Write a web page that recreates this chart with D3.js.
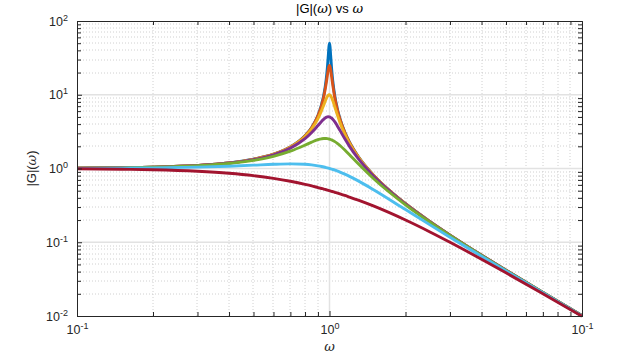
<!DOCTYPE html>
<html>
<head>
<meta charset="utf-8">
<script src="https://cdn.jsdelivr.net/npm/d3@7"></script>
<style>
  body { margin: 0; background: #fff; }
  svg { display: block; font-family: "Liberation Sans", Arial, sans-serif; }
</style>
</head>
<body>
<div id="graf"></div>
<script>
// Datos: frecuencia y |G| para cada curva
const omega = [0.1, 0.15, 0.2, 0.3, 0.4, 0.5, 0.6, 0.7, 0.8, 0.85, 0.9, 0.93, 0.95, 0.97, 0.98, 0.99, 0.995,
  1.0, 1.005, 1.01, 1.02, 1.03, 1.05, 1.07, 1.1, 1.15, 1.2, 1.3, 1.5, 2, 2.5, 3, 4, 5, 7, 10]

const magA = [1.0101, 1.023, 1.0417, 1.0989, 1.1904, 1.3332, 1.5622, 1.96, 2.7751, 3.5969, 5.2397, 7.3329, 10.067, 16.077, 22.634, 35.623, 44.923,
  50.0, 44.521, 35.093, 22.097, 15.555, 9.5576, 6.8273, 4.736, 3.0929, 2.2693, 1.4482, 0.7998, 0.3333, 0.19047, 0.125, 0.066666, 0.04167, 0.02083, 0.0101]
const magB = [1.0101, 1.023, 1.0416, 1.0988, 1.1903, 1.3329, 1.5614, 1.9578, 2.7669, 3.5769, 5.1712, 7.1364, 9.5565, 14.145, 17.946, 22.565, 24.372,
  25.0, 24.137, 22.162, 17.416, 13.601, 9.0277, 6.6186, 4.6607, 3.0697, 2.2593, 1.4452, 0.7991, 0.3332, 0.19044, 0.12499, 0.06666, 0.04167, 0.02083, 0.0101]
const magC = [1.0101, 1.0229, 1.0414, 1.0983, 1.1891, 1.3304, 1.5557, 1.9426, 2.7116, 3.4456, 4.7565, 6.097, 7.346, 8.8037, 9.4609, 9.9031, 10.0003,
  10.0, 9.9012, 9.7107, 9.115, 8.3571, 6.8149, 5.5517, 4.2182, 2.9206, 2.1926, 1.4242, 0.7943, 0.3326, 0.19026, 0.1249, 0.066643, 0.04166, 0.02083, 0.0101]
const magD = [1.0099, 1.0225, 1.0408, 1.0965, 1.1851, 1.3216, 1.5357, 1.8908, 2.5384, 3.0728, 3.8208, 4.3499, 4.6826, 4.931, 5.001, 5.0252, 5.0188,
  5.0, 4.969, 4.9262, 4.8086, 4.6552, 4.2794, 3.8694, 3.288, 2.5245, 1.9952, 1.3562, 0.7779, 0.3304, 0.18962, 0.1246, 0.066572, 0.04163, 0.02082, 0.0101]
const magE = [1.0093, 1.0211, 1.0381, 1.0895, 1.1695, 1.2883, 1.463, 1.7188, 2.0761, 2.2786, 2.4566, 2.5267, 2.549, 2.5479, 2.5381, 2.5221, 2.5118,
  2.5, 2.4868, 2.4722, 2.4391, 2.4011, 2.3131, 2.2131, 2.0511, 1.78, 1.5357, 1.1574, 0.7212, 0.3221, 0.18711, 0.1236, 0.066291, 0.04152, 0.0208, 0.01009]
const magF = [1.005, 1.0112, 1.0198, 1.0436, 1.0748, 1.1094, 1.1399, 1.1546, 1.1399, 1.1184, 1.0871, 1.0641, 1.0471, 1.029, 1.0196, 1.0099, 1.005,
  1.0, 0.995, 0.9899, 0.9796, 0.9692, 0.9479, 0.9261, 0.893, 0.8373, 0.7824, 0.6795, 0.5121, 0.2774, 0.17197, 0.117, 0.064416, 0.0408, 0.0206, 0.01005]
const magG = [0.99, 0.978, 0.962, 0.917, 0.862, 0.8, 0.735, 0.671, 0.61, 0.581, 0.552, 0.536, 0.526, 0.515, 0.51, 0.505, 0.5025,
  0.5, 0.4975, 0.495, 0.49, 0.485, 0.476, 0.466, 0.452, 0.431, 0.41, 0.372, 0.308, 0.2, 0.13793, 0.1, 0.058824, 0.0385, 0.02, 0.0099]

const series = [magA, magB, magC, magD, magE, magF, magG]
const colores = ["#0072BD", "#D95319", "#EDB120", "#7E2F8E", "#77AC30", "#4DBEEE", "#A2142F"]

// Ticks (texto tal como aparece)
const xTicks = [0.1, 1, 10]
const xTickExps = ["-1", "0", "-1"]
const yTicks = [0.01, 0.1, 1, 10, 100]
const yTickExps = ["-2", "-1", "0", "1", "2"]

const draw = () => {
  const graf = d3.select("#graf")

  const anchoTotal = 628
  const altoTotal = 354
  const margins = { top: 21, right: 46, bottom: 38, left: 77 }
  const ancho = anchoTotal - margins.left - margins.right
  const alto = altoTotal - margins.top - margins.bottom

  const x = d3.scaleLog().domain([0.1, 10]).range([0, ancho])
  const y = d3.scaleLog().domain([0.01, 100]).range([alto, 0])

  const minor = (decs) => decs.flatMap((d) => d3.range(2, 10).map((k) => d * k))
  const xMinor = minor([0.1, 1])
  const yMinor = minor([0.01, 0.1, 1, 10])

  const svg = graf.append("svg").attr("width", anchoTotal).attr("height", altoTotal)

  const chart = svg.append("g").attr("transform", `translate(${margins.left}, ${margins.top})`)

  // Rejilla menor (punteada)
  const grid = chart.append("g")
  grid.selectAll(".vmin").data(xMinor).join("line")
    .attr("x1", (d) => Math.round(x(d))).attr("x2", (d) => Math.round(x(d)))
    .attr("y1", 0).attr("y2", alto)
    .attr("stroke", "#c4c4c4").attr("stroke-width", 0.8).attr("stroke-dasharray", "1,2")
  grid.selectAll(".hmin").data(yMinor).join("line")
    .attr("y1", (d) => Math.round(y(d))).attr("y2", (d) => Math.round(y(d)))
    .attr("x1", 0).attr("x2", ancho)
    .attr("stroke", "#c4c4c4").attr("stroke-width", 0.8).attr("stroke-dasharray", "1,2")
  // Rejilla mayor
  grid.selectAll(".vmaj").data([1]).join("line")
    .attr("x1", (d) => x(d)).attr("x2", (d) => x(d))
    .attr("y1", 0).attr("y2", alto)
    .attr("stroke", "#e2e2e2").attr("stroke-width", 1.5)
  grid.selectAll(".hmaj").data([0.1, 1, 10]).join("line")
    .attr("y1", (d) => y(d)).attr("y2", (d) => y(d))
    .attr("x1", 0).attr("x2", ancho)
    .attr("stroke", "#e2e2e2").attr("stroke-width", 1.5)

  // Curvas
  const line = d3.line()
    .x((d, i) => x(omega[i]))
    .y((d) => y(d))
    .curve(d3.curveMonotoneX)

  chart.append("g").selectAll("path").data(series).join("path")
    .attr("d", line)
    .attr("fill", "none")
    .attr("stroke", (d, i) => colores[i])
    .attr("stroke-width", 2.9)
    .attr("stroke-linejoin", "round")

  // Ejes
  const sup = (g, exps) => {
    g.selectAll(".tick text").each(function (d, i) {
      const t = d3.select(this)
      t.text(null)
      t.append("tspan").text("10")
      t.append("tspan").attr("dy", "-5").style("font-size", "9px").text(exps[i])
    })
  }
  const styleAxis = (g) => {
    g.select(".domain").attr("stroke", "#262626")
    g.selectAll(".tick line").attr("stroke", "#262626")
    g.selectAll(".tick text").attr("fill", "#262626").style("font-size", "12.5px")
    g.attr("font-family", null)
  }

  // menores
  chart.append("g").attr("transform", `translate(0, ${alto})`)
    .call(d3.axisBottom(x).tickValues(xMinor).tickSize(-4).tickFormat("")).call(styleAxis)
  chart.append("g")
    .call(d3.axisTop(x).tickValues(xMinor).tickSize(-4).tickFormat("")).call(styleAxis)
  chart.append("g")
    .call(d3.axisLeft(y).tickValues(yMinor).tickSize(-4).tickFormat("")).call(styleAxis)
  chart.append("g").attr("transform", `translate(${ancho}, 0)`)
    .call(d3.axisRight(y).tickValues(yMinor).tickSize(-4).tickFormat("")).call(styleAxis)

  // mayores
  chart.append("g").attr("transform", `translate(0, ${alto})`)
    .call(d3.axisBottom(x).tickValues(xTicks).tickSizeInner(-5).tickSizeOuter(0).tickPadding(9))
    .call(styleAxis).call(sup, xTickExps)
  chart.append("g")
    .call(d3.axisLeft(y).tickValues(yTicks).tickSizeInner(-5).tickSizeOuter(0).tickPadding(9))
    .call(styleAxis).call(sup, yTickExps)

  // Titulo y etiquetas
  const title = svg.append("text")
    .attr("x", margins.left + ancho / 2).attr("y", 13)
    .attr("text-anchor", "middle").attr("fill", "#000")
    .style("font-size", "13px")
  title.append("tspan").text("|G|(")
  title.append("tspan").style("font-family", "'DejaVu Serif', serif").style("font-style", "italic").text("ω")
  title.append("tspan").text(") vs ")
  title.append("tspan").style("font-family", "'DejaVu Serif', serif").style("font-style", "italic").text("ω")

  svg.append("text")
    .attr("x", margins.left + ancho / 2).attr("y", 351)
    .attr("text-anchor", "middle").attr("fill", "#262626")
    .style("font-family", "'DejaVu Serif', serif").style("font-style", "italic").style("font-size", "13px")
    .text("ω")

  const ylab = svg.append("text")
    .attr("transform", `translate(36, ${margins.top + alto / 2}) rotate(-90)`)
    .attr("text-anchor", "middle").attr("fill", "#262626")
    .style("font-size", "13px")
  ylab.append("tspan").text("|G|(")
  ylab.append("tspan").style("font-family", "'DejaVu Serif', serif").style("font-style", "italic").text("ω")
  ylab.append("tspan").text(")")
}

draw()
</script>
</body>
</html>
